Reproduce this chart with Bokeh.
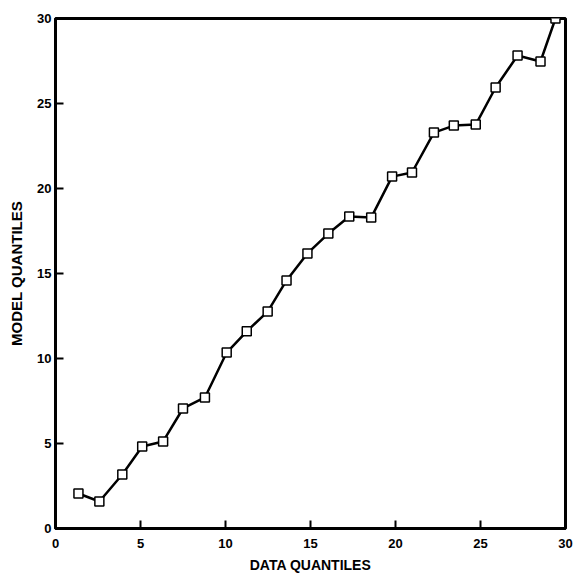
from bokeh.plotting import figure
from bokeh.models import Range1d, FixedTicker
from bokeh.embed import file_html
from bokeh.resources import INLINE

# Q-Q plot: data quantiles vs model quantiles
data_q = [1.35, 2.58, 3.93, 5.10, 6.33, 7.50, 8.79, 10.07, 11.25, 12.48, 13.59,
          14.82, 16.05, 17.28, 18.57, 19.80, 20.97, 22.26, 23.43, 24.72,
          25.89, 27.18, 28.53, 29.41]
model_q = [2.06, 1.59, 3.18, 4.82, 5.12, 7.06, 7.71, 10.35, 11.60, 12.76, 14.59,
           16.18, 17.35, 18.35, 18.29, 20.70, 20.94, 23.29, 23.70, 23.76,
           25.94, 27.82, 27.47, 30.00]
ticks = [0, 5, 10, 15, 20, 25, 30]

p = figure(width=578, height=576, output_backend="svg", toolbar_location=None,
           x_range=Range1d(0, 30), y_range=Range1d(0, 30),
           min_border_left=55, min_border_right=13, min_border_top=18,
           min_border_bottom=48)

p.line(data_q, model_q, line_color="black", line_width=2.5)
p.scatter(data_q, model_q, marker="square", size=9, fill_color="white",
          line_color="black", line_width=1.5)

p.grid.visible = False
p.outline_line_color = "black"
p.outline_line_width = 3

for ax in (p.xaxis[0], p.yaxis[0]):
    ax.ticker = FixedTicker(ticks=ticks)
    ax.axis_line_width = 3
    ax.axis_line_color = "black"
    ax.major_tick_in = 8
    ax.major_tick_out = 0
    ax.major_tick_line_width = 2
    ax.minor_tick_line_color = None
    ax.major_label_text_font = "Liberation Sans"
    ax.major_label_text_font_style = "bold"
    ax.major_label_text_font_size = "13px"
    ax.major_label_text_color = "black"
    ax.axis_label_text_font = "Liberation Sans"
    ax.axis_label_text_font_style = "bold"
    ax.axis_label_text_color = "black"

p.xaxis.axis_label = "DATA QUANTILES"
p.xaxis.axis_label_text_font_size = "14px"
p.xaxis.major_label_standoff = 10
p.xaxis.axis_label_standoff = 6

p.yaxis.axis_label = "MODEL QUANTILES"
p.yaxis.axis_label_text_font_size = "15px"
p.yaxis.major_label_standoff = 4
p.yaxis.axis_label_standoff = 9

open("out.html", "w").write(file_html(p, INLINE))
